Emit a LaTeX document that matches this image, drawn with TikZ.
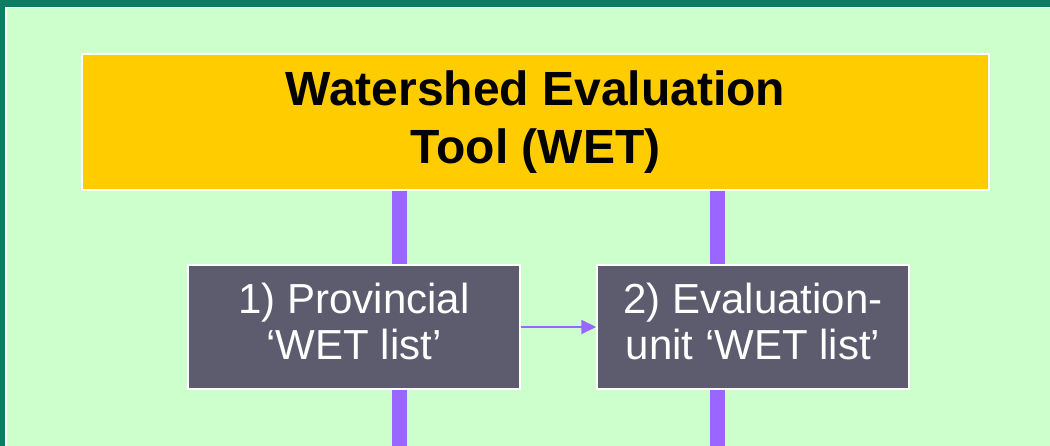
\documentclass[tikz,border=0pt]{standalone}
\usepackage{fontspec}
\setmainfont{Liberation Sans}
\usetikzlibrary{arrows.meta}
\definecolor{frame}{HTML}{0B7D62}
\definecolor{bg}{HTML}{CCFFCC}
\definecolor{gold}{HTML}{FFCC00}
\definecolor{slate}{HTML}{5C5C6E}
\definecolor{violet}{HTML}{9966FF}
\tikzset{
  titlebox/.style={draw=white, line width=1.5pt, fill=gold, inner sep=0pt, align=center,
    font=\fontsize{48}{57.6}\selectfont\bfseries, text=black},
  stepbox/.style={draw=white, line width=1.5pt, fill=slate, inner sep=0pt, align=center,
    minimum height=124pt, font=\fontsize{42}{46}\selectfont, text=white},
  bar/.style={violet, line width=15pt},
  flow/.style={violet, line width=2pt, -{Triangle[length=15pt,width=14pt]}}
}
\begin{document}
\begin{tikzpicture}[x=1pt,y=-1pt]
\useasboundingbox (0,0) rectangle (1050,446);
\fill[frame] (0,0) rectangle (1050,446);
\fill[white] (5,7) rectangle (1050,446);
\fill[bg] (6.5,8.5) rectangle (1050,446);
\node[titlebox, minimum width=907pt, minimum height=136pt] (wet) at (535.5,122) {Watershed Evaluation\\Tool (WET)};
\node[stepbox, minimum width=332pt] (prov) at (354,327) {1) Provincial\\‘WET list’\rule[-12pt]{0pt}{1pt}};
\node[stepbox, minimum width=312pt] (unit) at (753,327) {2) Evaluation-\\unit ‘WET list’\rule[-12pt]{0pt}{1pt}};
\coordinate (lb) at (399.5,446);
\coordinate (rb) at (717,446);
\draw[bar] (wet.south -| lb) -- (prov.north -| lb);
\draw[bar] (prov.south -| lb) -- (lb);
\draw[bar] (wet.south -| rb) -- (unit.north -| rb);
\draw[bar] (unit.south -| rb) -- (rb);
\draw[flow] (prov.east) -- (unit.west);
\end{tikzpicture}
\end{document}
